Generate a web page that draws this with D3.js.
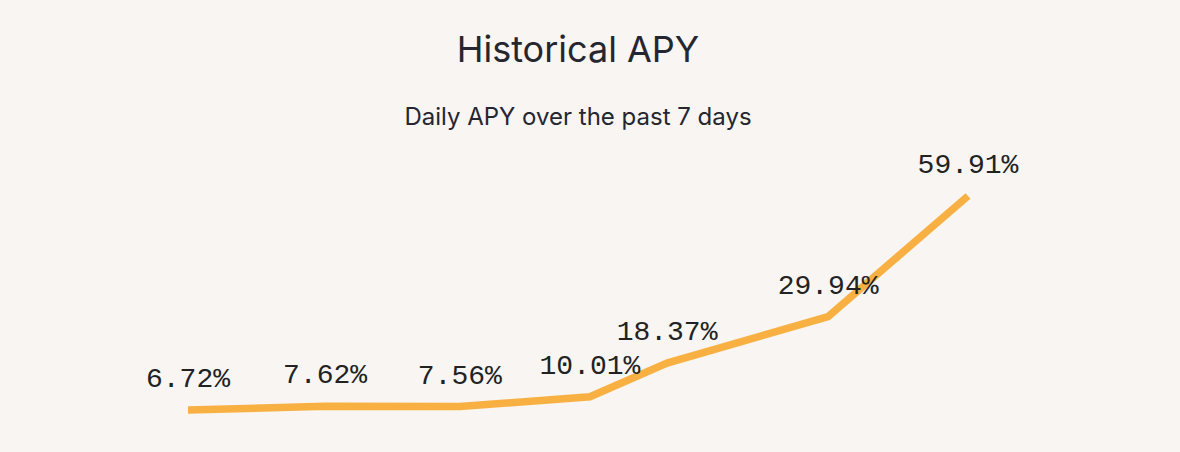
<!DOCTYPE html>
<html>
<head>
<meta charset="utf-8">
<script src="https://cdn.jsdelivr.net/npm/d3@7"></script>
<style>
  html, body { margin: 0; padding: 0; background: #f8f5f2; }
  svg { display: block; }
</style>
</head>
<body>
<svg id="chart" width="1180" height="452"></svg>
<script>
// Data
const hoursSinceStart = [0, 24, 47.6, 70.4, 83.9, 112.1, 136.6];
const apyValues = [6.72, 7.62, 7.56, 10.01, 18.37, 29.94, 59.91];
const labels = ["6.72%", "7.62%", "7.56%", "10.01%", "18.37%", "29.94%", "59.91%"];
const titleText = "Historical APY";
const subtitleText = "Daily APY over the past 7 days";

const W = 1180, H = 452;
const centerX = 578;
const svg = d3.select("#chart");

svg.append("rect").attr("width", W).attr("height", H).attr("fill", "#f8f5f2");

svg.append("text")
  .attr("x", centerX).attr("y", 62)
  .attr("text-anchor", "middle")
  .attr("font-family", "Inter, 'Open Sans', sans-serif")
  .attr("font-size", 36)
  .attr("fill", "#262631")
  .text(titleText);

svg.append("text")
  .attr("x", centerX).attr("y", 125)
  .attr("text-anchor", "middle")
  .attr("font-family", "Inter, 'Open Sans', sans-serif")
  .attr("font-size", 24)
  .attr("fill", "#262631")
  .text(subtitleText);

const x = d3.scaleLinear()
  .domain([d3.min(hoursSinceStart), d3.max(hoursSinceStart)])
  .range([188, 968]);
const y = d3.scaleLinear()
  .domain([0, d3.max(apyValues)])
  .range([437, 196]);

const pts = hoursSinceStart.map((h, i) => ({ h, v: apyValues[i], label: labels[i] }));

const line = d3.line().x(d => x(d.h)).y(d => y(d.v));

svg.append("path")
  .datum(pts)
  .attr("d", line)
  .attr("fill", "none")
  .attr("stroke", "#f9b042")
  .attr("stroke-width", 7.5)
  .attr("stroke-linejoin", "miter");

svg.selectAll("text.lbl")
  .data(pts)
  .join("text")
  .attr("class", "lbl")
  .attr("x", d => x(d.h))
  .attr("y", d => y(d.v) - 23)
  .attr("text-anchor", "middle")
  .attr("font-family", "'Liberation Mono', 'DejaVu Sans Mono', monospace")
  .attr("font-size", 28)
  .attr("fill", "#222222")
  .text(d => d.label);
</script>
</body>
</html>
